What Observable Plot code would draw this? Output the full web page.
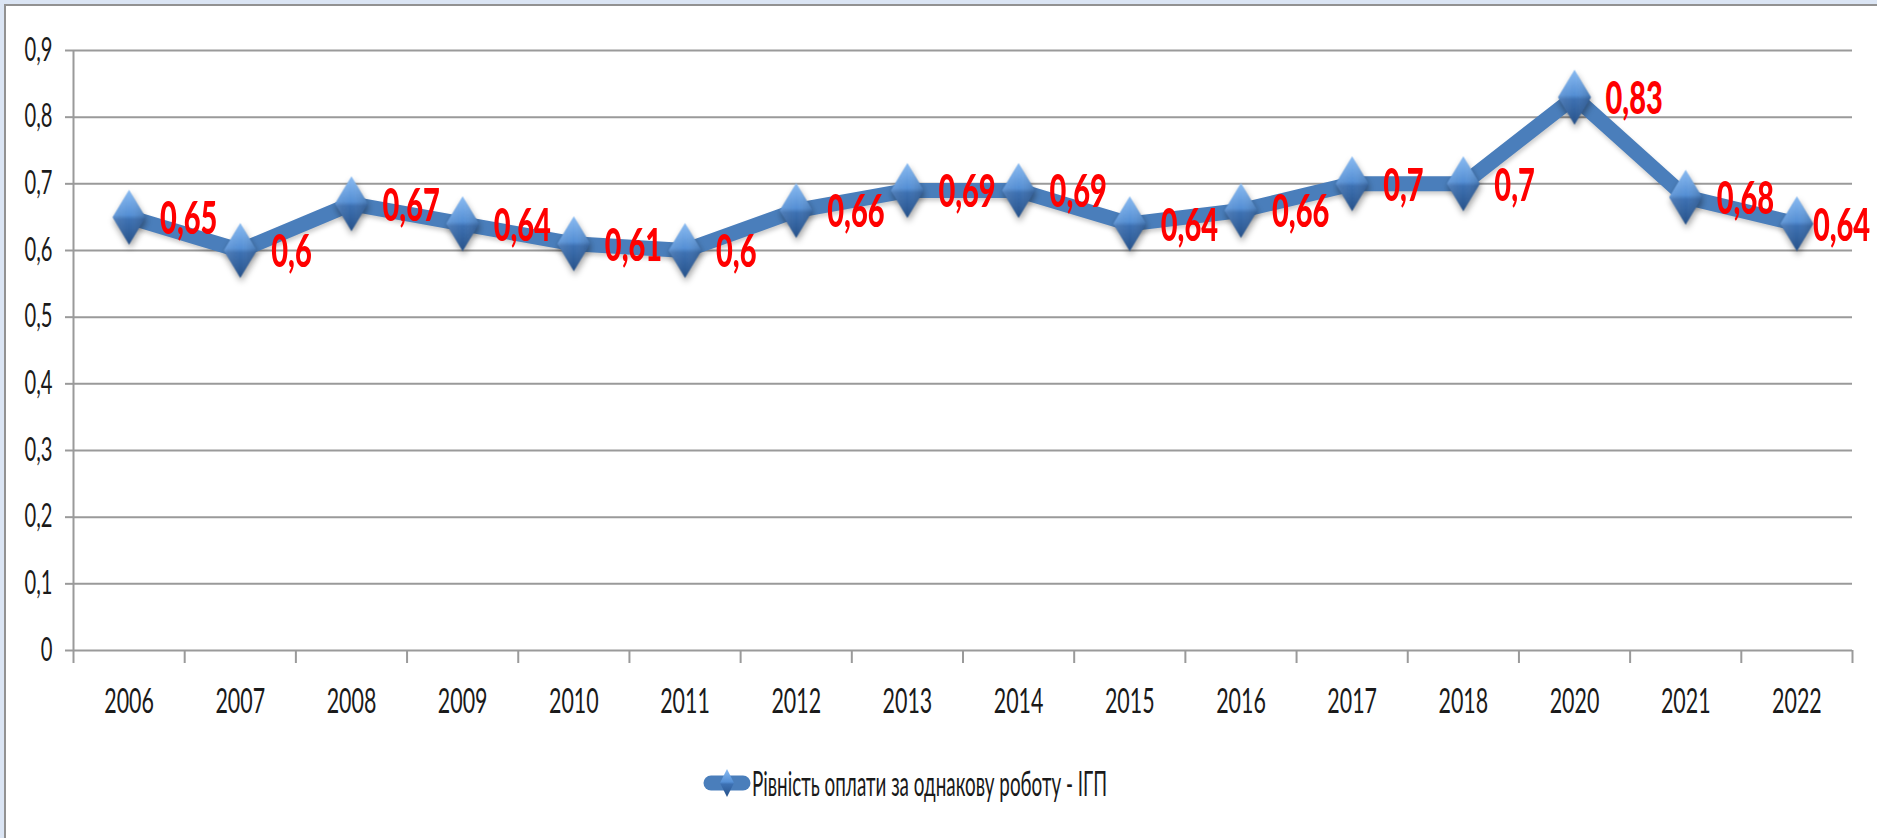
<!DOCTYPE html>
<html><head><meta charset="utf-8">
<script src="https://cdn.jsdelivr.net/npm/d3@7"></script>
<script src="https://cdn.jsdelivr.net/npm/@observablehq/plot@0.6"></script>
<style>
html,body{margin:0;padding:0;overflow:hidden;background:#dbe5f4;}
#frame{position:relative;width:1877px;height:838px;background:#dbe5f4;}
#panel{position:absolute;left:4px;top:4px;right:0;bottom:0;background:#fff;border-left:2px solid #929292;border-top:2px solid #929292;}
#chart{position:absolute;left:0;top:0;}
#legend{position:absolute;left:0;top:750px;}
#chart g[aria-label="dot"]{filter:drop-shadow(1px 4px 3px rgba(0,0,0,0.35));}
#chart g[aria-label="line"]{filter:drop-shadow(1px 3px 2px rgba(0,0,0,0.2));}
</style></head>
<body><div id="frame"><div id="panel"></div><div id="chart"></div><div id="legend"></div></div>
<script>
const years = ["2006","2007","2008","2009","2010","2011","2012","2013","2014","2015","2016","2017","2018","2020","2021","2022"];
const values = [0.65,0.6,0.67,0.64,0.61,0.6,0.66,0.69,0.69,0.64,0.66,0.7,0.7,0.83,0.68,0.64];
const yTicks = [0,0.1,0.2,0.3,0.4,0.5,0.6,0.7,0.8,0.9];
const seriesName = "Рівність оплати за однакову роботу - ІГП";

const fmt = d => String(+(+d).toFixed(2)).replace(".", ",");
const data = years.map((year, i) => ({i, year, value: values[i]}));
const last = data.length - 1;
const boundaries = d3.range(years.length + 1).map(k => k - 0.5);
const gray = "#9a9a9a";
const blue = "#4a7ebb";

const diamond = {
  draw(ctx, size) {
    const r = Math.sqrt(size / Math.PI), w = r * 0.6;
    ctx.moveTo(0, -r); ctx.lineTo(w, 0); ctx.lineTo(0, r); ctx.lineTo(-w, 0); ctx.closePath();
  }
};

const labelStyle = {x: "i", y: "value", text: d => fmt(d.value), textAnchor: "start", dy: 2,
  fill: "#ff0000", fontWeight: 900, fontSize: 46};

const svg = Plot.plot({
  width: 1877, height: 730,
  marginLeft: 73, marginRight: 25, marginTop: 50, marginBottom: 80,
  style: {background: "transparent", maxWidth: "none", overflow: "visible", fontFamily: "Lato, sans-serif", color: "#1a1a1a"},
  x: {domain: [-0.5, years.length - 0.5], label: null},
  y: {domain: [0, 0.9], label: null},
  marks: [
    Plot.gridY(yTicks, {stroke: gray, strokeOpacity: 1, strokeWidth: 2}),
    Plot.axisY(yTicks, {tickSize: 8, tickPadding: 13, tickFormat: fmt, fontSize: 32, stroke: gray, strokeWidth: 2, label: null}),
    Plot.axisX(boundaries, {tickSize: 13, tickFormat: () => "", stroke: gray, strokeWidth: 2, label: null}),
    Plot.axisX(d3.range(years.length), {tickSize: 0, tickPadding: 38, tickFormat: i => years[i], fontSize: 34, label: null}),
    Plot.ruleX([boundaries[0]], {y1: yTicks[0], y2: yTicks[yTicks.length - 1], stroke: gray, strokeWidth: 2}),
    Plot.line(data, {x: "i", y: "value", stroke: blue, strokeWidth: 15, strokeLinejoin: "round"}),
    Plot.dot(data, {x: "i", y: "value", symbol: diamond, r: 27.5, fill: "url(#diamondGrad)", stroke: "none"}),
    Plot.dot(data, {x: "i", y: "value", symbol: diamond, r: 27.5, fill: "url(#diamondShade)", stroke: "none"}),
    Plot.text(data.slice(0, last), {...labelStyle, dx: 31}),
    Plot.text(data.slice(last), {...labelStyle, dx: 16})
  ]
});

// gradients for the bevelled diamond markers
const defs = d3.select(svg).insert("defs", ":first-child");
const g1 = defs.append("linearGradient").attr("id", "diamondGrad").attr("x1", 0).attr("y1", 0).attr("x2", 0).attr("y2", 1);
[["0%", "#8bbcf2"], ["46%", "#5590d6"], ["54%", "#3d71b3"], ["100%", "#27528a"]].forEach(([o, c]) => g1.append("stop").attr("offset", o).attr("stop-color", c));
const g2 = defs.append("linearGradient").attr("id", "diamondShade").attr("x1", 0).attr("y1", 0).attr("x2", 1).attr("y2", 0);
[["0%", "#ffffff", 0.12], ["50%", "#ffffff", 0], ["100%", "#000000", 0.15]].forEach(([o, c, a]) => g2.append("stop").attr("offset", o).attr("stop-color", c).attr("stop-opacity", a));

// condensed lettering as in the reference
d3.select(svg).selectAll("text").each(function () {
  const t = this.getAttribute("transform");
  if (t) this.setAttribute("transform", t + " scale(0.63,1)");
});
document.getElementById("chart").appendChild(svg);

// legend
const lg = d3.create("svg").attr("width", 1877).attr("height", 70);
lg.append("line").attr("x1", 711).attr("x2", 743).attr("y1", 33).attr("y2", 33)
  .attr("stroke", blue).attr("stroke-width", 15).attr("stroke-linecap", "round");
lg.append("path").attr("d", "M727,19L734,33L727,47L720,33Z").attr("fill", "url(#diamondGrad)");
lg.append("text").attr("x", 752).attr("y", 46).attr("font-family", "Lato, sans-serif").attr("font-size", 35)
  .attr("fill", "#1a1a1a").attr("textLength", 355).attr("lengthAdjust", "spacingAndGlyphs").text(seriesName);
document.getElementById("legend").appendChild(lg.node());
</script>
</body></html>
